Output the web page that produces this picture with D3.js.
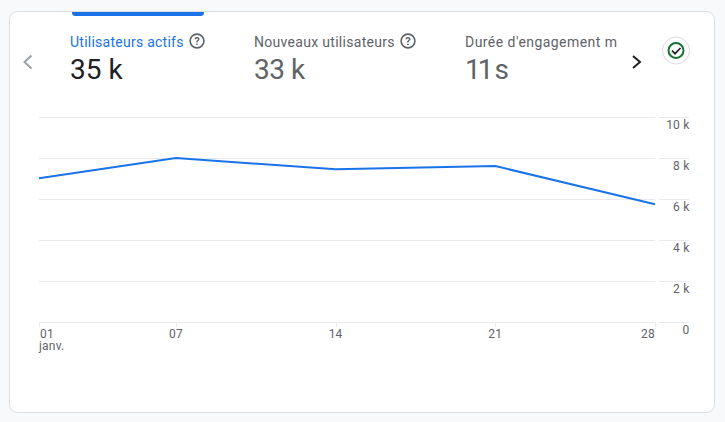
<!DOCTYPE html>
<html>
<head>
<meta charset="utf-8">
<script src="https://cdn.jsdelivr.net/npm/d3@7"></script>
<style>
  html, body { margin: 0; padding: 0; background: #f8f9fa; }
  svg { display: block; }
  text { font-family: Roboto, "Noto Sans", sans-serif; }
</style>
</head>
<body>
<div id="chart"></div>
<script>
const days = [1, 7, 14, 21, 28];
const users = [7040, 8020, 7480, 7630, 5770];
const yTicks = [0, 2000, 4000, 6000, 8000, 10000];
const yTickLabels = ["0", "2 k", "4 k", "6 k", "8 k", "10 k"];
const dayLabels = ["01", "07", "14", "21", "28"];
const monthLabel = "janv.";
const cardTitles = ["Utilisateurs actifs", "Nouveaux utilisateurs", "Durée d'engagement m"];
const cardValues = ["35 k", "33 k", "11 s"];

const width = 725;
const height = 422;

const svg = d3
  .select("#chart")
  .append("svg")
  .attr("width", width)
  .attr("height", height);

// card
svg
  .append("rect")
  .attr("x", 9.5)
  .attr("y", 11.5)
  .attr("width", 705)
  .attr("height", 401)
  .attr("rx", 8)
  .attr("fill", "#fff")
  .attr("stroke", "#dadce0");

// selected tab marker
svg
  .append("path")
  .attr("d", "M72 12H204V12.5a3.5 3.5 0 0 1 -3.5 3.5H75.5a3.5 3.5 0 0 1 -3.5 -3.5Z")
  .attr("fill", "#1a73e8");

// scorecards
const cardX = [70, 254, 465];
const titleColors = ["#1a73e8", "#5f6368", "#5f6368"];
const valueColors = ["#202124", "#5f6368", "#5f6368"];
const titleSpacing = [0.25, 0.3, 0.45];
const valueSpacing = [0, -0.5, -3];

cardTitles.forEach(function(t, i) {
  svg
    .append("text")
    .attr("x", cardX[i])
    .attr("y", 47)
    .attr("font-size", 14)
    .attr("letter-spacing", titleSpacing[i])
    .attr("fill", titleColors[i])
    .text(t);
  svg
    .append("text")
    .attr("x", cardX[i])
    .attr("y", 79)
    .attr("font-size", 28)
    .attr("letter-spacing", valueSpacing[i])
    .attr("fill", valueColors[i])
    .text(cardValues[i]);
});

// help icons
[197, 408].forEach(function(cx) {
  const g = svg.append("g").attr("transform", "translate(" + cx + ",41)");
  g.append("circle")
    .attr("r", 6.9)
    .attr("fill", "none")
    .attr("stroke", "#5f6368")
    .attr("stroke-width", 1.6);
  g.append("text")
    .attr("y", 4)
    .attr("text-anchor", "middle")
    .attr("font-size", 11)
    .attr("font-weight", 700)
    .attr("fill", "#5f6368")
    .text("?");
});

// carousel arrows
svg
  .append("path")
  .attr("d", "M31.5 55.5L24.5 62L31.5 68.5")
  .attr("fill", "none")
  .attr("stroke", "#9aa0a6")
  .attr("stroke-width", 2);
svg
  .append("path")
  .attr("d", "M633 56L640 62L633 68")
  .attr("fill", "none")
  .attr("stroke", "#202124")
  .attr("stroke-width", 2);

// status badge
svg
  .append("circle")
  .attr("cx", 676)
  .attr("cy", 50.5)
  .attr("r", 13.5)
  .attr("fill", "#fff")
  .attr("stroke", "#dadce0");
svg
  .append("circle")
  .attr("cx", 676)
  .attr("cy", 50.5)
  .attr("r", 7.5)
  .attr("fill", "none")
  .attr("stroke", "#137333")
  .attr("stroke-width", 2);
svg
  .append("path")
  .attr("d", "M672 50.7L675 53.7L680.5 48")
  .attr("fill", "none")
  .attr("stroke", "#202124")
  .attr("stroke-width", 1.7);

// scales
const x = d3.scaleLinear().domain([1, 28]).range([39, 655]);
const y = d3.scaleLinear().domain([0, 10000]).range([322.5, 117.5]);

// horizontal grid, split in two parts around the gap before the labels
const grid = svg.append("g");
yTicks.forEach(function(t, i) {
  grid
    .append("line")
    .attr("x1", 39)
    .attr("x2", 655)
    .attr("y1", y(t))
    .attr("y2", y(t))
    .attr("stroke", "#e8eaed");
  grid
    .append("line")
    .attr("x1", 659)
    .attr("x2", 689)
    .attr("y1", y(t))
    .attr("y2", y(t))
    .attr("stroke", "#e8eaed");
  svg
    .append("text")
    .attr("x", 689.5)
    .attr("y", y(t) + 11)
    .attr("text-anchor", "end")
    .attr("font-size", 12)
    .attr("letter-spacing", 0.2)
    .attr("fill", "#5f6368")
    .text(yTickLabels[i]);
});

// x axis
days.forEach(function(d, i) {
  svg
    .append("line")
    .attr("x1", Math.round(x(d)) + 0.5)
    .attr("x2", Math.round(x(d)) + 0.5)
    .attr("y1", 322)
    .attr("y2", 327)
    .attr("stroke", "#e8eaed");
  const anchor = i === 0 ? "start" : i === days.length - 1 ? "end" : "middle";
  const label = svg
    .append("text")
    .attr("y", 338)
    .attr("text-anchor", anchor)
    .attr("font-size", 12)
    .attr("letter-spacing", 0.2)
    .attr("fill", "#5f6368");
  if (i === 0) {
    // first tick carries the month on a second line
    label.append("tspan").attr("x", x(d) + 1).text(dayLabels[i]);
    label.append("tspan").attr("x", x(d)).attr("dy", 12).text(monthLabel);
  } else {
    label.attr("x", x(d)).text(dayLabels[i]);
  }
});

// line
const line = d3
  .line()
  .x(function(d, i) {
    return x(days[i]);
  })
  .y(function(d) {
    return y(d);
  });

svg
  .append("path")
  .datum(users)
  .attr("d", line)
  .attr("fill", "none")
  .attr("stroke", "#1a73e8")
  .attr("stroke-width", 2);
</script>
</body>
</html>
